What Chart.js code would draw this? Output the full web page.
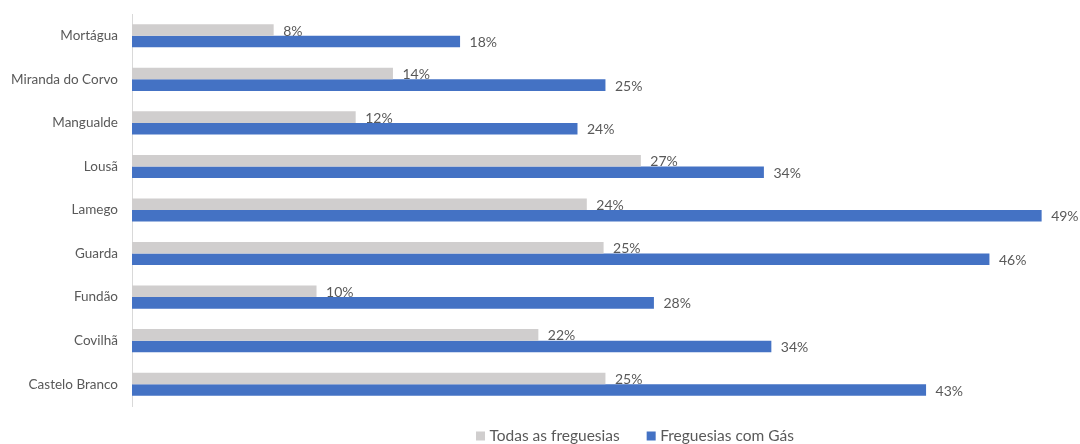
<!DOCTYPE html>
<html>
<head>
<meta charset="utf-8">
<script src="https://cdn.jsdelivr.net/npm/chart.js@4.4.0/dist/chart.umd.min.js"></script>
<style>
html,body{margin:0;padding:0;background:#fff}
#wrap{width:1080px;height:444px;position:relative}
</style>
</head>
<body>
<div id="wrap"><canvas id="chart"></canvas></div>
<script>
const CATEGORIES=['Mortágua','Miranda do Corvo','Mangualde','Lousã','Lamego','Guarda','Fundão','Covilhã','Castelo Branco'];
const TODAS=[7.6,14.0,12.0,27.3,24.4,25.3,9.9,21.8,25.4];
const COM_GAS=[17.6,25.4,23.9,33.9,48.8,46.0,28.0,34.3,42.6];
const SERIES_NAMES=['Todas as freguesias','Freguesias com Gás'];
const COLORS=['#D0CECE','#4472C4'];
const FONT='Lato, "Noto Sans", sans-serif';
const TXT='#595959';

// value labels at the end of each bar
const barLabels={
 id:'barLabels',
 afterDatasetsDraw(chart){
  const ctx=chart.ctx;
  ctx.save();
  ctx.font='14px '+FONT;ctx.fillStyle=TXT;ctx.textAlign='left';ctx.textBaseline='middle';
  chart.data.datasets.forEach((ds,i)=>{
   chart.getDatasetMeta(i).data.forEach((bar,j)=>{
    ctx.fillText(Math.round(ds.data[j])+'%',bar.x+9.5,bar.y+1);
   });
  });
  ctx.restore();
 }
};
// legend drawn under the plot like Excel
const bottomLegend={
 id:'bottomLegend',
 afterDraw(chart){
  const ctx=chart.ctx;
  ctx.save();
  ctx.font='15.5px '+FONT;ctx.textBaseline='middle';ctx.textAlign='left';
  let x=476;const y=436;
  chart.data.datasets.forEach(ds=>{
   ctx.fillStyle=ds.backgroundColor;ctx.fillRect(x,y-4.5,9,9);
   ctx.fillStyle=TXT;ctx.fillText(ds.label,x+13.5,y);
   x+=13.5+ctx.measureText(ds.label).width+27;
  });
  ctx.restore();
 }
};

new Chart(document.getElementById('chart'),{
 type:'bar',
 data:{labels:CATEGORIES,datasets:[
  {label:SERIES_NAMES[0],data:TODAS,backgroundColor:COLORS[0]},
  {label:SERIES_NAMES[1],data:COM_GAS,backgroundColor:COLORS[1]}
 ]},
 options:{
  indexAxis:'y',responsive:true,maintainAspectRatio:false,animation:false,
  layout:{padding:{top:14,bottom:38,left:0,right:16}},
  datasets:{bar:{categoryPercentage:0.53,barPercentage:1}},
  plugins:{legend:{display:false},tooltip:{enabled:false}},
  scales:{
   x:{display:false,min:0,max:50},
   y:{
    grid:{display:false,drawTicks:true,tickLength:14},
    border:{display:true,color:'#D9D9D9',width:1},
    ticks:{color:TXT,font:{family:FONT,size:13.5},padding:0},
    afterFit(s){s.width=132}
   }
  }
 },
 plugins:[barLabels,bottomLegend]
});
</script>
</body>
</html>
